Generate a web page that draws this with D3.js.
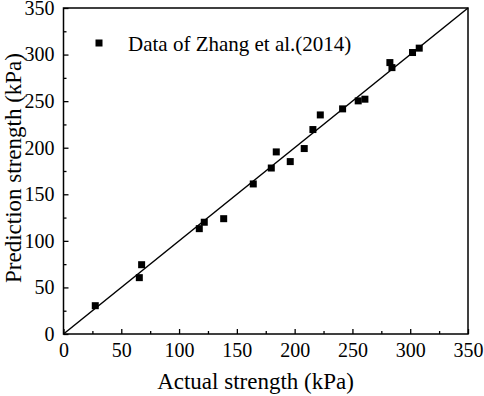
<!DOCTYPE html>
<html>
<head>
<meta charset="utf-8">
<script src="https://cdn.jsdelivr.net/npm/d3@7"></script>
<style>
    body { margin: 0; background: #fff; }
</style>
</head>
<body>
<svg id="chart"></svg>
<script>
(() => {

    const WIDTH = 484;
    const HEIGHT = 396;
    const LEFT = 63.5;
    const RIGHT = 468;
    const TOP = 8;
    const BOTTOM = 334;
    const MARKER = 7;
    const FONT = "'Liberation Serif', 'Times New Roman', Times, serif";

    // values
    const actual = [27.5, 65.6, 67.6, 117.5, 121.8, 138.6, 164.2, 179.8, 184.1, 196.2,
        208.3, 215.8, 222.2, 241.5, 255.0, 260.8, 282.4, 284.2, 302.0, 307.8];
    const predicted = [30.4, 60.5, 74.4, 113.1, 120.0, 123.8, 161.1, 178.2, 195.5, 185.1,
        199.1, 219.5, 235.2, 241.7, 250.3, 252.1, 291.4, 286.0, 302.2, 306.9];
    const majorTicks = [0, 50, 100, 150, 200, 250, 300, 350];
    const minorTicks = [25, 75, 125, 175, 225, 275, 325];
    const legendLabel = "Data of Zhang et al.(2014)";

    let svg = d3.select("#chart")
        .attr("width", WIDTH)
        .attr("height", HEIGHT)
        .style("font-family", FONT);

    let x = d3.scaleLinear().domain([0, 350]).range([LEFT, RIGHT]);
    let y = d3.scaleLinear().domain([0, 350]).range([BOTTOM, TOP]);

    // minor ticks first, then major ticks with labels
    let xMinor = d3.axisBottom(x).tickValues(minorTicks).tickSize(-3).tickFormat("");
    let yMinor = d3.axisLeft(y).tickValues(minorTicks).tickSize(-3).tickFormat("");
    let xAxis = d3.axisBottom(x).tickValues(majorTicks).tickSize(-5).tickPadding(9);
    let yAxis = d3.axisLeft(y).tickValues(majorTicks).tickSize(-5).tickPadding(9);

    function styleAxis(g) {
        g.attr("font-family", null).attr("font-size", null);
        g.select(".domain").remove();
        g.selectAll("line").attr("stroke", "#000").attr("stroke-width", 1.3);
        g.selectAll("text")
            .attr("fill", "#000")
            .style("font-family", FONT)
            .style("font-size", "20px");
    }

    svg.append("g").attr("transform", `translate(0,${BOTTOM})`).call(xMinor).call(styleAxis);
    svg.append("g").attr("transform", `translate(${LEFT},0)`).call(yMinor).call(styleAxis);
    svg.append("g").attr("transform", `translate(0,${BOTTOM})`).call(xAxis).call(styleAxis);
    svg.append("g").attr("transform", `translate(${LEFT},0)`).call(yAxis).call(styleAxis);

    svg.append("rect")
        .attr("x", LEFT)
        .attr("y", TOP)
        .attr("width", RIGHT - LEFT)
        .attr("height", BOTTOM - TOP)
        .attr("fill", "none")
        .attr("stroke", "#000")
        .attr("stroke-width", 1.5);

    // 1:1 line
    svg.append("line")
        .attr("x1", x(0)).attr("y1", y(0))
        .attr("x2", x(350)).attr("y2", y(350))
        .attr("stroke", "#000")
        .attr("stroke-width", 1.5);

    svg.append("g")
        .selectAll("rect")
        .data(d3.zip(actual, predicted))
        .join("rect")
        .attr("x", d => x(d[0]) - MARKER / 2)
        .attr("y", d => y(d[1]) - MARKER / 2)
        .attr("width", MARKER)
        .attr("height", MARKER)
        .attr("fill", "#000");

    // legend
    svg.append("rect")
        .attr("x", 99 - MARKER / 2)
        .attr("y", 43 - MARKER / 2)
        .attr("width", MARKER)
        .attr("height", MARKER)
        .attr("fill", "#000");
    svg.append("text")
        .attr("x", 128)
        .attr("y", 51)
        .style("font-family", FONT)
        .style("font-size", "21px")
        .text(legendLabel);

    svg.append("text")
        .attr("x", 255.5)
        .attr("y", 389)
        .attr("text-anchor", "middle")
        .style("font-family", FONT)
        .style("font-size", "23px")
        .text("Actual strength (kPa)");

    svg.append("text")
        .attr("transform", "translate(21,168) rotate(-90)")
        .attr("text-anchor", "middle")
        .style("font-family", FONT)
        .style("font-size", "23px")
        .text("Prediction strength (kPa)");

})();
</script>
</body>
</html>
